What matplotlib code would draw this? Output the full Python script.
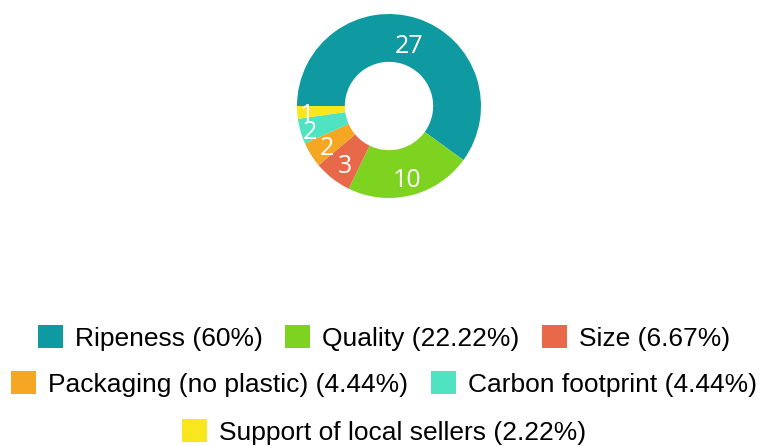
import numpy as np
import matplotlib.pyplot as plt
from matplotlib.patches import Patch
from matplotlib.transforms import offset_copy

labels = ["Ripeness", "Quality", "Size", "Packaging (no plastic)",
          "Carbon footprint", "Support of local sellers"]
counts = [27, 10, 3, 2, 2, 1]
colors = ["#0f9aa1", "#7ed321", "#e8694a", "#f5a623", "#50e3c2", "#f8e71c"]
# radial position of each value label (fraction of outer radius)
label_dist = [0.715, 0.80, 0.78, 0.80, 0.89, 0.89]

total = sum(counts)
pcts = [100 * c / total for c in counts]

fig = plt.figure(figsize=(7.68, 4.46), dpi=100)

# donut: centre ~ (389, 106) px, outer radius ~92 px
W, H = 768, 446
cx, cy, r = 389, 106, 92
ax = fig.add_axes([(cx - r) / W, (H - cy - r) / H, 2 * r / W, 2 * r / H])
wedges, _ = ax.pie(counts, colors=colors, startangle=180, counterclock=False,
                   radius=1.0, wedgeprops=dict(width=0.52, linewidth=0))
ax.set_xlim(-1, 1)
ax.set_ylim(-1, 1)
ax.set_aspect("equal")
ax.axis("off")

# nudge labels down a little so the digits sit visually centred
tr = offset_copy(ax.transData, fig=fig, x=0, y=-2.5, units="points")
for w, c, d in zip(wedges, counts, label_dist):
    ang = np.deg2rad((w.theta1 + w.theta2) / 2)
    ax.text(d * np.cos(ang), d * np.sin(ang), str(c), color="white",
            ha="center", va="center", fontsize=18, family="Open Sans",
            transform=tr)


def fmt(v):
    return f"{v:.2f}".rstrip("0").rstrip(".")


rows = [[0, 1, 2], [3, 4], [5]]
row_y = [338, 384, 432]
for idx, y in zip(rows, row_y):
    handles = [Patch(facecolor=colors[i], edgecolor="none") for i in idx]
    texts = [f"{labels[i]} ({fmt(pcts[i])}%)" for i in idx]
    fig.legend(handles, texts, loc="center", bbox_to_anchor=(0.5, 1 - y / H),
               ncol=len(idx), frameon=False, handlelength=0.95, handleheight=0.95,
               handletextpad=0.45, columnspacing=0.85, borderpad=0,
               prop=dict(family="Liberation Sans", size=19))

fig.savefig("out.png", dpi=100)
